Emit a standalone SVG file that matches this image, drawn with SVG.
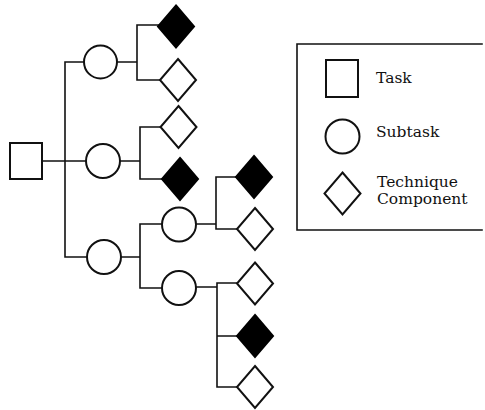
<svg xmlns="http://www.w3.org/2000/svg" width="485" height="410" viewBox="0 0 485 410">
  <style>
    .wire { fill: none; stroke: #111; stroke-width: 1.6; stroke-linecap: square; }
    .shape { fill: #fff; stroke: #111; stroke-width: 2; }
    .solid { fill: #000; stroke: #000; stroke-width: 2; }
    .label { font-family: "DejaVu Serif", "Liberation Serif", serif; font-size: 15.5px; fill: #111; }
  </style>
  <defs>
    <polygon id="dia" points="0,-21 18,0 0,21 -18,0"/>
  </defs>
  <rect width="485" height="410" fill="#fff"/>

  <!-- connectors -->
  <g id="connectors" class="wire">
    <!-- task to subtasks -->
    <path d="M42,161 H65 M65,62 V257 M65,62 H84 M65,161 H86 M65,257 H87"/>
    <!-- subtask 1 -->
    <path d="M117,62 H137 M137,25 V80 M137,25 H159 M137,80 H160"/>
    <!-- subtask 2 -->
    <path d="M120,161 H140 M140,127 V179 M140,127 H161 M140,179 H162"/>
    <!-- subtask 3 -->
    <path d="M121,257 H140 M140,224 V288 M140,224 H162 M140,288 H162"/>
    <!-- subtask 3a -->
    <path d="M196,224 H216 M216,177 V229 M216,177 H236 M216,229 H237"/>
    <!-- subtask 3b -->
    <path d="M196,287 H217 M217,283 V387 M217,283 H237 M217,336 H237 M217,387 H237"/>
  </g>

  <!-- task -->
  <g id="task"><rect class="shape" x="10" y="143" width="32" height="36"/></g>

  <!-- subtasks -->
  <g id="subtask-1"><circle class="shape" cx="100.5" cy="62" r="16.5"/></g>
  <g id="subtask-2"><circle class="shape" cx="103" cy="161" r="17"/></g>
  <g id="subtask-3"><circle class="shape" cx="104" cy="257" r="17"/></g>
  <g id="subtask-3a"><circle class="shape" cx="179" cy="224.5" r="17"/></g>
  <g id="subtask-3b"><circle class="shape" cx="179" cy="288" r="17"/></g>

  <!-- technique components -->
  <g id="tc-1"><use href="#dia" class="solid" x="176" y="26.5"/></g>
  <g id="tc-2"><use href="#dia" class="shape" x="178" y="80"/></g>
  <g id="tc-3"><use href="#dia" class="shape" x="178.5" y="127"/></g>
  <g id="tc-4"><use href="#dia" class="solid" x="180" y="179"/></g>
  <g id="tc-5"><use href="#dia" class="solid" x="254" y="177"/></g>
  <g id="tc-6"><use href="#dia" class="shape" x="255" y="229"/></g>
  <g id="tc-7"><use href="#dia" class="shape" x="255" y="283.5"/></g>
  <g id="tc-8"><use href="#dia" class="solid" x="255" y="336"/></g>
  <g id="tc-9"><use href="#dia" class="shape" x="255" y="387"/></g>

  <!-- legend -->
  <g id="legend">
    <path class="wire" d="M482,44 H297 V230 H482"/>
    <rect class="shape" x="326" y="60" width="32" height="37"/>
    <text class="label" x="376" y="83">Task</text>
    <circle class="shape" cx="342.5" cy="136.5" r="17"/>
    <text class="label" x="376" y="137">Subtask</text>
    <use href="#dia" class="shape" x="342.5" y="193.5"/>
    <text class="label" x="377" y="187">Technique</text>
    <text class="label" x="377" y="204">Component</text>
  </g>
</svg>
